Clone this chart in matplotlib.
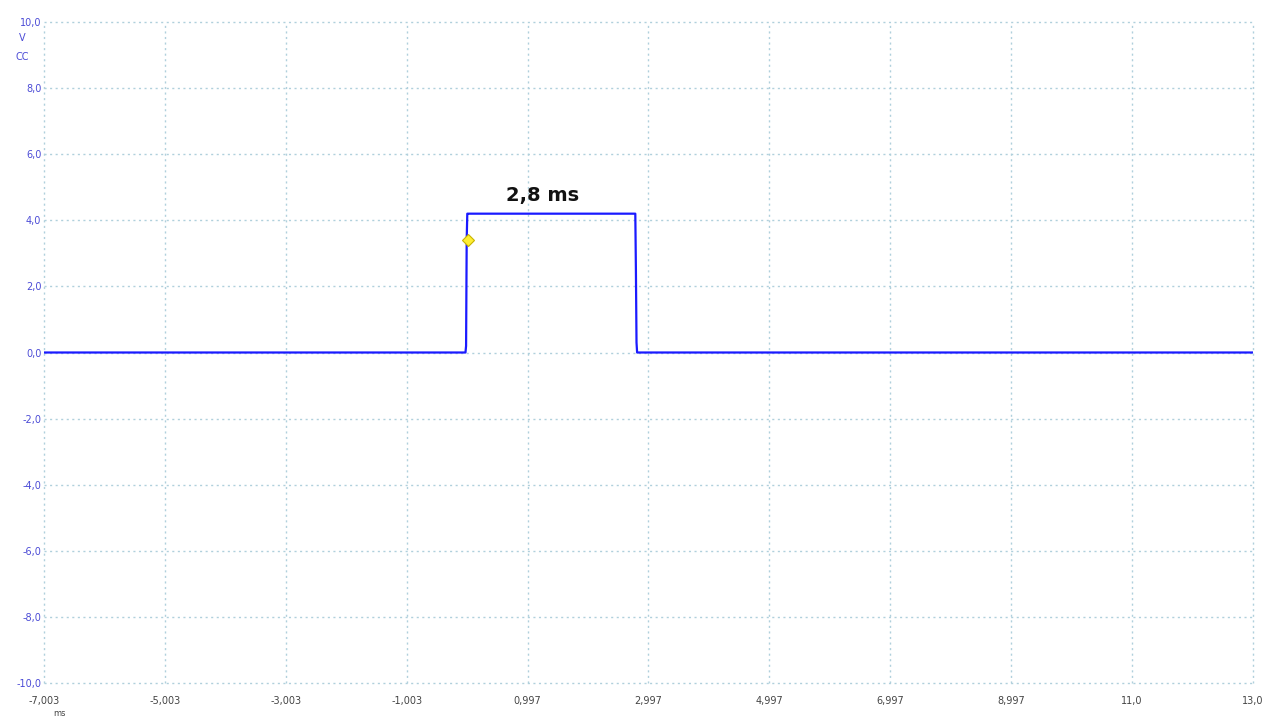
import matplotlib
matplotlib.use("Agg")
import matplotlib.pyplot as plt
import numpy as np

# scope trace (ms, V)
t = [-7.003, -1.0, -0.03, -0.02, -0.01, 0.0, 0.01, 1.0, 2.0, 2.78, 2.79, 2.80, 2.81, 5.0, 9.0, 13.0]
v = [0.0, 0.0, 0.0, 0.2, 3.4, 4.2, 4.2, 4.2, 4.2, 4.2, 2.5, 0.3, 0.0, 0.0, 0.0, 0.0]

trig_t = 0.01
trig_v = 3.39

xticks = [-7.003, -5.003, -3.003, -1.003, 0.997, 2.997, 4.997, 6.997, 8.997, 11.0, 13.0]
xlabels = ["-7,003", "-5,003", "-3,003", "-1,003", "0,997", "2,997", "4,997", "6,997", "8,997", "11,0", "13,0"]
yticks = [-10, -8, -6, -4, -2, 0, 2, 4, 6, 8, 10]
ylabels = ["-10,0", "-8,0", "-6,0", "-4,0", "-2,0", "0,0", "2,0", "4,0", "6,0", "8,0", "10,0"]

fig = plt.figure(figsize=(12.66, 7.18), dpi=100)
ax = fig.add_axes([0.0348, 0.0487, 0.9549, 0.9207])

ax.plot(t, v, color="#1a1aff", lw=1.6)
ax.plot([trig_t], [trig_v], marker="D", ms=6, color="#ffee33", mec="#c8b400", mew=0.8, zorder=5)
ax.text(1.25, 4.75, "2,8 ms", fontsize=14, fontweight="bold", ha="center", va="center", color="#111111")

ax.set_xlim(-7.003, 13.0)
ax.set_ylim(-10, 10)
ax.set_xticks(xticks)
ax.set_xticklabels(xlabels, fontsize=7, color="#444444")
ax.set_yticks(yticks)
ax.set_yticklabels(ylabels, fontsize=7, color="#4b4bd6")
ax.tick_params(axis="y", length=0, pad=2)
ax.tick_params(axis="x", length=0, pad=9)
ax.grid(True, color="#b0d0dc", ls=(0, (1.5, 2.5)), lw=1.0)
for gl in ax.get_xgridlines() + ax.get_ygridlines():
    gl.set_clip_on(False)
for s in ax.spines.values():
    s.set_visible(False)

fig.text(0.0175, 0.943, "V", fontsize=7, color="#4b4bd6", ha="center")
fig.text(0.0175, 0.917, "CC", fontsize=7, color="#4b4bd6", ha="center")
fig.text(0.047, 0.003, "ms", fontsize=6, color="#444444", ha="center")

fig.savefig("out.png", dpi=100, facecolor="white")
